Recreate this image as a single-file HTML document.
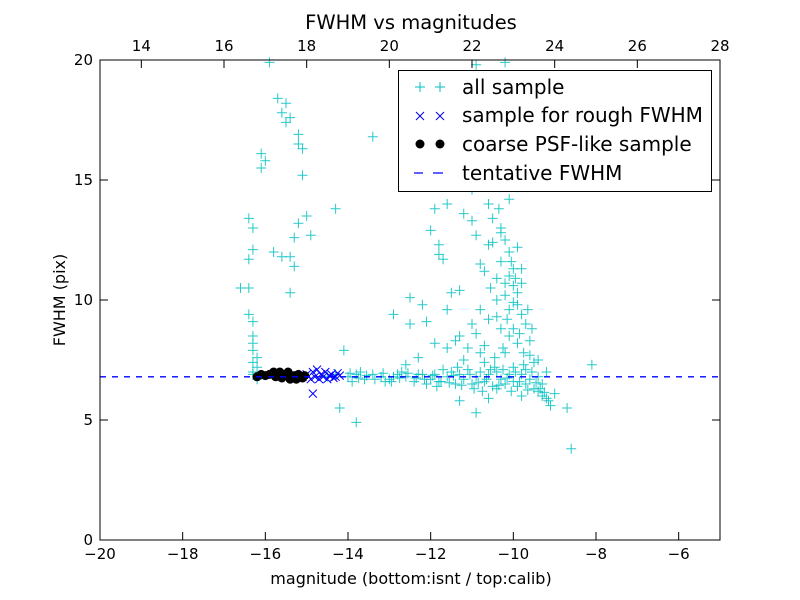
<!DOCTYPE html>
<html><head><meta charset="utf-8"><style>
body{margin:0;background:#fff;}
svg{display:block;font-family:"DejaVu Sans","Liberation Sans",sans-serif;}
</style></head><body>
<svg id="chart" width="800" height="600" viewBox="0 0 800 600" xmlns="http://www.w3.org/2000/svg">
<rect width="800" height="600" fill="#fff"/>
<g id="marks"></g>
<g id="axes"></g>
</svg>
<script>
const xTicks=[-20,-18,-16,-14,-12,-10,-8,-6];
const topTicks=[14,16,18,20,22,24,26,28];
const yTicks=[0,5,10,15,20];
const topOffset=33;
const tentativeFWHM=6.8;
const allSample=[
[-15.9,19.9],[-15.7,18.4],[-15.5,18.2],[-15.6,17.8],[-15.4,17.6],[-15.5,17.4],[-15.2,16.9],[-15.2,16.5],[-15.1,16.3],[-16.1,16.1],[-16.0,15.8],[-16.1,15.5],[-15.1,15.2],[-16.4,13.4],[-16.3,13.0],[-15.0,13.5],[-15.2,13.2],[-16.3,12.1],[-15.8,12.0],[-15.3,12.6],[-14.9,12.7],[-15.6,11.8],[-15.4,11.8],[-16.4,11.7],[-15.3,11.4],[-16.6,10.5],[-16.4,10.5],[-15.4,10.3],[-16.4,9.4],[-16.3,9.1],[-16.3,8.5],[-16.3,8.2],[-16.3,7.9],[-16.2,7.6],[-16.3,7.4],[-16.2,7.2],[-16.3,7.0],[-16.3,6.9],[-16.2,6.7],[-14.1,7.9],[-14.2,5.5],[-13.8,4.9],[-14.3,13.8],[-13.4,16.8],[-12.9,9.4],[-12.5,9.0],[-12.5,10.1],[-12.2,9.8],[-12.1,9.1],[-12.0,12.9],[-11.9,13.8],[-11.8,12.3],[-11.8,11.9],[-11.7,11.7],[-11.6,9.6],[-11.5,10.3],[-11.3,10.4],[-11.4,8.3],[-11.3,8.5],[-11.2,13.6],[-11.0,14.6],[-11.0,13.3],[-10.9,12.7],[-10.8,11.5],[-10.8,9.6],[-10.7,11.2],[-10.7,8.1],[-10.6,14.0],[-10.6,12.3],[-10.5,13.4],[-10.5,12.4],[-10.4,10.9],[-10.4,9.3],[-10.3,12.8],[-10.3,11.6],[-10.2,10.7],[-10.2,10.2],[-10.1,11.0],[-10.1,9.6],[-10.0,11.3],[-10.0,10.6],[-9.9,10.3],[-9.9,9.8],[-9.8,11.3],[-9.8,9.4],[-10.0,8.8],[-10.1,8.5],[-9.9,8.2],[-9.7,9.0],[-9.6,8.3],[-9.6,7.7],[-9.5,7.4],[-9.7,7.1],[-9.4,7.5],[-9.4,6.2],[-9.3,6.0],[-9.2,5.9],[-9.0,6.1],[-9.1,5.6],[-8.7,5.5],[-8.6,3.8],[-8.1,7.3],[-10.5,16.0],[-10.2,19.9],[-9.9,14.7],[-9.6,15.7],[-10.9,19.8],[-10.3,17.5],[-11.5,17.1],[-11.2,15.8],[-10.8,15.4],[-10.5,15.0],[-10.1,14.2],[-11.6,14.0],[-10.3,13.0],[-9.9,12.2],[-10.1,12.0],[-9.8,10.7],[-10.4,10.0],[-10.6,9.2],[-11.0,9.0],[-10.9,8.6],[-11.6,8.0],[-11.9,8.2],[-12.3,7.6],[-12.6,7.3],[-11.2,7.5],[-10.7,7.4],[-10.2,7.8],[-10.0,7.2],[-10.4,6.3],[-10.6,5.9],[-10.9,5.3],[-11.3,5.8],[-9.8,6.0],[-9.6,6.7],[-9.3,6.5],[-9.2,7.0],
[-14.0,6.8],[-13.8,6.9],[-13.6,6.7],[-13.4,6.9],[-13.2,6.8],[-13.0,6.7],[-12.8,6.9],[-12.6,6.8],[-12.4,6.6],[-12.2,6.9],[-12.0,6.7],[-11.9,6.9],[-11.8,6.6],[-11.6,6.8],[-11.5,7.0],[-11.4,6.5],[-11.3,6.9],[-11.2,6.7],[-11.1,7.1],[-11.0,6.5],[-10.9,6.8],[-10.8,7.0],[-10.7,6.6],[-10.6,6.9],[-10.5,6.4],[-10.4,7.0],[-10.3,6.7],[-10.2,6.5],[-10.1,6.9],[-10.0,6.6],[-9.9,6.4],[-9.8,6.9],[-9.7,6.5],[-9.5,6.3],[-9.4,6.8],[-13.7,7.0],[-13.1,6.6],[-12.7,7.0],[-12.1,6.5],[-11.7,7.1],[-10.95,6.3],[-10.45,7.2],[-13.9,6.6],[-12.9,6.8],[-12.3,6.9],[-11.85,6.4],[-11.35,7.2],[-10.75,6.2],[-10.25,7.1],[-9.75,7.3],[-9.55,7.0],[-14.3,6.9],[-14.5,6.8],
[-13.95,6.95],[-13.75,6.75],[-13.55,6.85],[-13.35,6.7],[-13.15,6.95],[-12.95,6.6],[-12.75,6.75],[-12.55,6.95],[-12.35,6.75],[-12.15,6.7],[-11.95,6.85],[-11.75,6.6],[-11.55,6.55],[-11.45,6.85],[-11.25,6.45],[-11.05,6.9],[-10.85,6.55],[-10.65,6.7],[-10.55,7.1],[-10.35,6.45],[-10.15,6.75],[-10.05,6.2],[-9.95,7.0],[-9.85,6.6],[-9.65,6.25],[-9.45,6.55],[-9.35,6.3],[-9.25,6.15],[-9.15,5.8],[-10.3,8.8],[-10.15,9.2],[-10.0,9.9],[-9.95,10.9],[-10.05,11.6],[-10.2,12.5],[-10.35,13.8],[-10.55,10.5],[-10.25,8.0],[-9.85,8.6],[-9.75,7.8],[-9.55,8.8],[-9.65,9.6],[-10.45,7.6],[-10.8,7.8],[-11.1,8.0]
];
const roughSample=[[-15.1,6.8],[-15.0,6.9],[-14.9,6.7],[-14.85,7.0],[-14.8,6.8],[-14.75,7.1],[-14.7,6.7],[-14.65,6.9],[-14.6,6.8],[-14.55,7.0],[-14.5,6.7],[-14.45,6.85],[-14.4,6.9],[-14.35,6.75],[-14.3,6.8],[-14.25,6.95],[-14.2,6.85],[-14.85,6.1]];
const psfSample=[[-16.2,6.8],[-16.1,6.9],[-16.0,6.85],[-15.9,6.9],[-15.8,7.0],[-15.75,6.8],[-15.65,7.0],[-15.6,6.75],[-15.5,6.9],[-15.45,7.0],[-15.4,6.7],[-15.3,6.85],[-15.25,6.7],[-15.2,6.9],[-15.1,6.75],[-15.05,6.85]];

const X0=100,X1=720,Y0=60,Y1=540;
const sx=v=>X0+(v-(-20))*(X1-X0)/15;
const sy=v=>Y1-v*(Y1-Y0)/20;
const NS="http://www.w3.org/2000/svg";
function mk(tag,attrs,parent){const e=document.createElementNS(NS,tag);for(const k in attrs)e.setAttribute(k,attrs[k]);parent.appendChild(e);return e;}
const marks=document.getElementById('marks');
const axes=document.getElementById('axes');

allSample.forEach(p=>{
  const x=sx(p[0]),y=sy(p[1]);
  const g=mk('path',{d:`M${x-5} ${y}H${x+5}M${x} ${y-5}V${y+5}`,stroke:'#00bfbf','stroke-width':1,'stroke-opacity':0.85},marks);
  
  
});
roughSample.forEach(p=>{
  const x=sx(p[0]),y=sy(p[1]);
  const g=mk('path',{d:`M${x-4} ${y-4}L${x+4} ${y+4}M${x-4} ${y+4}L${x+4} ${y-4}`,stroke:'#0000ff','stroke-width':1},marks);
  
  
});
psfSample.forEach(p=>{
  const c=mk('circle',{cx:sx(p[0]),cy:sy(p[1]),r:4.5,fill:'#000'},marks);
  
  
});
const tl=mk('line',{x1:X0,x2:X1,y1:sy(tentativeFWHM),y2:sy(tentativeFWHM),stroke:'#0000ff','stroke-width':1.3,'stroke-dasharray':'6,6'},marks);



const frame=mk('rect',{x:X0,y:Y0,width:X1-X0,height:Y1-Y0,fill:'none',stroke:'#000','stroke-width':1},axes);



xTicks.forEach(t=>{
  const x=sx(t);
  mk('line',{x1:x,x2:x,y1:Y1,y2:Y1-8,stroke:'#000'},axes);
  const tx=mk('text',{x:x,y:Y1+19,'text-anchor':'middle','font-size':15},axes);
  tx.textContent=(t<0?'\u2212'+(-t):t);
  
  
});
topTicks.forEach(t=>{
  const x=sx(t-topOffset);
  mk('line',{x1:x,x2:x,y1:Y0,y2:Y0+8,stroke:'#000'},axes);
  const tx=mk('text',{x:x,y:Y0-9,'text-anchor':'middle','font-size':15},axes);
  tx.textContent=t;
  
  
});
yTicks.forEach(t=>{
  const y=sy(t);
  mk('line',{x1:X0,x2:X0+8,y1:y,y2:y,stroke:'#000'},axes);
  mk('line',{x1:X1,x2:X1-8,y1:y,y2:y,stroke:'#000'},axes);
  const tx=mk('text',{x:X0-7,y:y+5,'text-anchor':'end','font-size':15},axes);
  tx.textContent=t;
  
  
});
</script>
<svg style="position:absolute;left:0;top:0" width="800" height="600">
<text x="411" y="29" text-anchor="middle" font-size="19.5" font-family="DejaVu Sans, sans-serif">FWHM vs magnitudes</text>
<text x="411" y="584" text-anchor="middle" font-size="16" font-family="DejaVu Sans, sans-serif">magnitude (bottom:isnt / top:calib)</text>
<text transform="translate(65,300) rotate(-90)" text-anchor="middle" font-size="16" font-family="DejaVu Sans, sans-serif">FWHM (pix)</text>
<g font-family="DejaVu Sans, sans-serif" font-size="20">
<rect x="398.5" y="70.5" width="313" height="121" fill="#fff" stroke="#000"/>
<g>
<path d="M415 87H425M420 82V92M435 87H445M440 82V92" stroke="#00bfbf"/>
<text x="462" y="94">all sample</text></g>
<g>
<path d="M416 112L424 120M416 120L424 112M436 112L444 120M436 120L444 112" stroke="#0000ff"/>
<text x="462" y="122">sample for rough FWHM</text></g>
<g>
<circle cx="420" cy="144" r="4.5"/><circle cx="440" cy="144" r="4.5"/>
<text x="462" y="151">coarse PSF-like sample</text></g>
<g>
<path d="M414 173H423M433 173H443" stroke="#0000ff" stroke-width="1.3"/>
<text x="462" y="180">tentative FWHM</text></g>
</g>
</svg>
</body></html>
